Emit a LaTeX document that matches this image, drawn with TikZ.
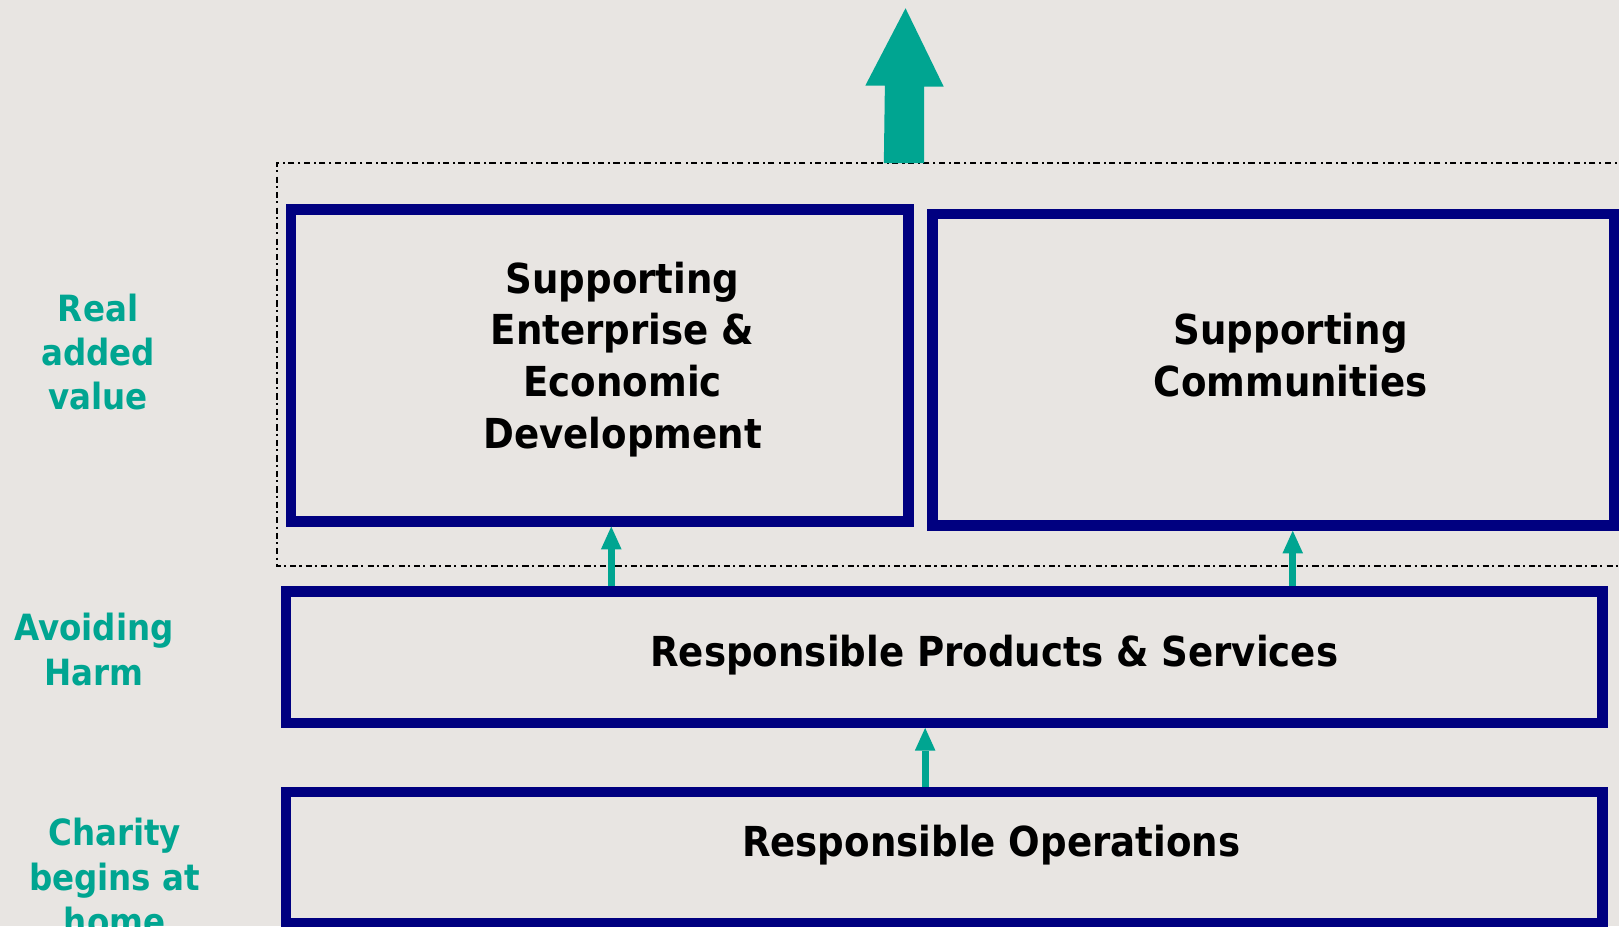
\documentclass[tikz,border=0pt]{standalone}
\usepackage{fontspec}
\setmainfont{DejaVu Sans}[FakeStretch=0.9]
\usetikzlibrary{arrows.meta}
\definecolor{navyline}{HTML}{000080}
\definecolor{greenteal}{HTML}{00A591}
\definecolor{paper}{HTML}{E8E5E2}
\tikzset{
  block/.style={draw=navyline, line width=10pt},
  blocktext/.style={align=center, font=\bfseries\fontsize{40}{50}\selectfont},
  sidetext/.style={align=center, text=greenteal, font=\bfseries\fontsize{35}{43}\selectfont},
  uparrow/.style={draw=greenteal, line width=7pt, -{Triangle[width=20pt,length=22pt,line width=0pt]}}
}
\begin{document}
\begin{tikzpicture}[x=1pt, y=-1pt]
\fill[paper] (0,0) rectangle (1568,897);
\useasboundingbox (0,0) rectangle (1568,897);
% dash-dot frame round the top row
\draw[line width=2pt, dash pattern=on 6pt off 3pt on 2pt off 4pt] (1590,158) -- (268,158) -- (268,548) -- (1590,548);
% big arrow
\fill[greenteal] (856,158) -- (857,83) -- (838,83) -- (877,8) -- (914,84) -- (895,84) -- (895,158) -- cycle;
% boxes
\node[block, minimum width=598pt, minimum height=302pt] (enterprise) at (581,354) {};
\node[block, minimum width=660pt, minimum height=302pt] (communities) at (1233,358) {};
\node[block, minimum width=1275pt, minimum height=127pt] (products) at (914.5,636.5) {};
\node[block, minimum width=1275pt, minimum height=127pt] (operations) at (914.5,830.5) {};
% box texts
\node[blocktext] (t1) at (603,348) {Supporting\\Enterprise \&\\Economic\\Development};
\node[blocktext] (t2) at (1250,344) {Supporting\\Communities};
\node[blocktext] (t3) at (963,634) {Responsible Products \& Services};
\node[blocktext] (t4) at (960,818) {Responsible Operations};
% side labels
\node[sidetext] (s1) at (95,341) {Real\\added\\value};
\node[sidetext] (s2) at (91,629) {Avoiding\\Harm};
\node[sidetext] (s3) at (111,849) {Charity\\begins at\\home};
% arrows between boxes
\coordinate (c1) at (592,0);
\coordinate (c2) at (1252,0);
\coordinate (c3) at (896,0);
\draw[uparrow] (products.north -| c1) -- (enterprise.south -| c1);
\draw[uparrow] (products.north -| c2) -- (communities.south -| c2);
\draw[uparrow] (operations.north -| c3) -- (products.south -| c3);
\end{tikzpicture}
\end{document}
